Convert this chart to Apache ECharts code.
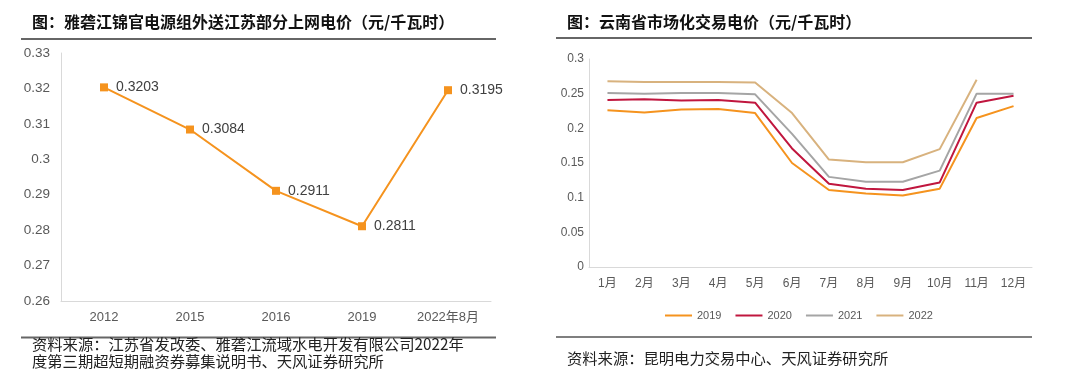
<!DOCTYPE html>
<html><head><meta charset="utf-8">
<script src="https://cdn.jsdelivr.net/npm/echarts@6/dist/echarts.min.js"></script>
<style>html,body{margin:0;padding:0;background:#fff}#c{width:1080px;height:387px}</style>
</head><body><div id="c"></div>
<script>
// Left chart data
const leftCategories = ['2012', '2015', '2016', '2019', '2022年8月'];
const leftValues = [0.3203, 0.3084, 0.2911, 0.2811, 0.3195];
const leftTicks = [0.26, 0.27, 0.28, 0.29, 0.3, 0.31, 0.32, 0.33];

// Right chart data
const months = ['1月','2月','3月','4月','5月','6月','7月','8月','9月','10月','11月','12月'];
const seriesNames = ['2019', '2020', '2021', '2022'];
const v2019 = [0.226, 0.223, 0.227, 0.228, 0.222, 0.150, 0.111, 0.106, 0.103, 0.113, 0.215, 0.232];
const v2020 = [0.241, 0.242, 0.240, 0.241, 0.237, 0.171, 0.120, 0.113, 0.111, 0.122, 0.237, 0.247];
const v2021 = [0.251, 0.250, 0.251, 0.251, 0.249, 0.192, 0.130, 0.123, 0.123, 0.139, 0.250, 0.250];
const v2022 = [0.268, 0.267, 0.267, 0.267, 0.266, 0.222, 0.155, 0.151, 0.151, 0.170, 0.270, null];
const rightTicks = [0, 0.05, 0.1, 0.15, 0.2, 0.25, 0.3];

const titleLeft = '图：雅砻江锦官电源组外送江苏部分上网电价（元/千瓦时）';
const titleRight = '图：云南省市场化交易电价（元/千瓦时）';
const srcLeft1 = '资料来源：江苏省发改委、雅砻江流域水电开发有限公司2022年';
const srcLeft2 = '度第三期超短期融资券募集说明书、天风证券研究所';
const srcRight = '资料来源：昆明电力交易中心、天风证券研究所';

const colors = ['#F5931E', '#C0163E', '#A5A5A5', '#D8B27E'];
const FONT = '"Liberation Sans", "Noto Sans CJK SC", sans-serif';
const CJK = '"Noto Sans CJK SC", sans-serif';

const chart = echarts.init(document.getElementById('c'));
const rightData = [v2019, v2020, v2021, v2022];

chart.setOption({
  animation: false,
  textStyle: { fontFamily: FONT },
  grid: [
    { left: 61, right: 589, top: 53, bottom: 86 },
    { left: 589, right: 48, top: 59, bottom: 120 }
  ],
  xAxis: [
    { type: 'category', gridIndex: 0, data: leftCategories, boundaryGap: true,
      axisLine: { lineStyle: { color: '#D9D9D9' } }, axisTick: { show: false },
      axisLabel: { color: '#595959', fontSize: 13, margin: 10, fontFamily: FONT } },
    { type: 'category', gridIndex: 1, data: months, boundaryGap: true,
      axisLine: { lineStyle: { color: '#D9D9D9' } }, axisTick: { show: false },
      axisLabel: { color: '#595959', fontSize: 12, margin: 11, fontFamily: FONT } }
  ],
  yAxis: [
    { type: 'value', gridIndex: 0, min: leftTicks[0], max: leftTicks[leftTicks.length-1], interval: 0.01,
      axisLine: { show: true, lineStyle: { color: '#D9D9D9' } }, axisTick: { show: false },
      splitLine: { show: false },
      axisLabel: { color: '#595959', fontSize: 13.5, margin: 11, formatter: v => String(+v.toFixed(2)) } },
    { type: 'value', gridIndex: 1, min: rightTicks[0], max: rightTicks[rightTicks.length-1], interval: 0.05,
      axisLine: { show: true, lineStyle: { color: '#D9D9D9' } }, axisTick: { show: false },
      splitLine: { show: false },
      axisLabel: { color: '#595959', fontSize: 12, margin: 5, formatter: v => String(+v.toFixed(2)) } }
  ],
  legend: {
    data: seriesNames, left: 660, top: 305, itemGap: 14, itemWidth: 27, itemHeight: 2, icon: 'rect',
    textStyle: { color: '#595959', fontSize: 11, fontFamily: FONT }
  },
  series: [
    { type: 'line', xAxisIndex: 0, yAxisIndex: 0, data: leftValues,
      symbol: 'rect', symbolSize: 8, showSymbol: true,
      lineStyle: { color: '#F5931E', width: 2 }, itemStyle: { color: '#F5931E' },
      label: { show: true, position: 'right', distance: 8, color: '#404040', fontSize: 14, fontFamily: FONT,
               formatter: p => p.value.toFixed(4) } }
  ].concat(seriesNames.map((n, i) => ({
      name: n, type: 'line', xAxisIndex: 1, yAxisIndex: 1, data: rightData[i],
      symbol: 'none', showSymbol: false,
      lineStyle: { color: colors[i], width: 2 }, itemStyle: { color: colors[i] }
  }))),
  graphic: [
    { type: 'text', left: 32, top: 14, style: { text: titleLeft, font: 'bold 16px ' + CJK, fill: '#111' } },
    { type: 'text', left: 567, top: 14, style: { text: titleRight, font: 'bold 16px ' + CJK, fill: '#111' } },
    { type: 'line', shape: { x1: 21, y1: 39, x2: 496, y2: 39 }, style: { stroke: '#333', lineWidth: 1.5 } },
    { type: 'line', shape: { x1: 556, y1: 38, x2: 1032, y2: 38 }, style: { stroke: '#333', lineWidth: 1.5 } },
    { type: 'line', shape: { x1: 21, y1: 337.5, x2: 496, y2: 337.5 }, style: { stroke: '#666', lineWidth: 2 } },
    { type: 'line', shape: { x1: 556, y1: 337, x2: 1032, y2: 337 }, style: { stroke: '#555', lineWidth: 1.5 } },
    { type: 'text', left: 32, top: 337, style: { text: srcLeft1, font: '15.3px ' + CJK, fill: '#222' } },
    { type: 'text', left: 32, top: 354, style: { text: srcLeft2, font: '15.3px ' + CJK, fill: '#222' } },
    { type: 'text', left: 567, top: 351, style: { text: srcRight, font: '15.3px ' + CJK, fill: '#222' } }
  ]
});
</script></body></html>
